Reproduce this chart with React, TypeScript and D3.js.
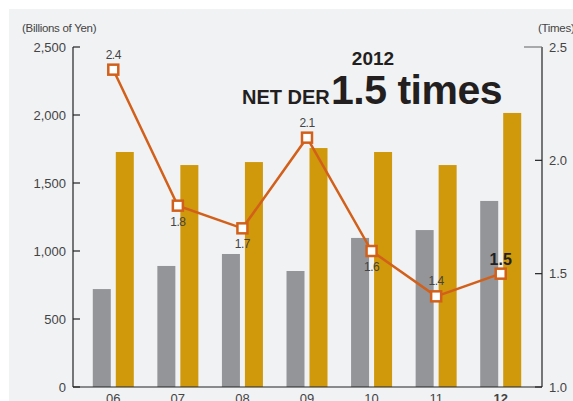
import React from "react";
import * as d3 from "d3";

const years = ["06", "07", "08", "09", "10", "11", "12"];
const netDebt = [720, 890, 978, 853, 1096, 1154, 1368];
const equity = [1728, 1632, 1654, 1757, 1728, 1632, 2015];
const der = [2.4, 1.8, 1.7, 2.1, 1.6, 1.4, 1.5];
const leftTicks = [0, 500, 1000, 1500, 2000, 2500];
const rightTicks = [1.0, 1.5, 2.0, 2.5];
const labelPos = ["above", "below", "below", "above", "below", "above", "bold"];

const W = 573, H = 401;
const xL = 73, xR = 542, yTop = 47, yBot = 387;

export default function App() {
  const x = d3.scaleBand<string>().domain(years).range([81, 533]).padding(0);
  const yl = d3.scaleLinear().domain([0, 2500]).range([yBot, yTop]);
  const yr = d3.scaleLinear().domain([1, 2.5]).range([yBot, yTop]);
  const cx = (y: string) => (x(y) as number) + x.bandwidth() / 2;
  const line = d3.line<number>().x((_, i) => cx(years[i])).y((d) => yr(d));
  const fmt = d3.format(",");
  const font = "Helvetica, Arial, 'Liberation Sans', sans-serif";
  const bw = 18, gap = 5;
  return (
    <svg width={W} height={H} style={{ position: "absolute", left: 0, top: 0, fontFamily: font }}>
      <rect x={0} y={0} width={W} height={H} fill="#fff" />
      <rect x={9} y={9} width={W - 9} height={H - 9} fill="#F1F2F4" />
      {/* bars */}
      {years.map((yv, i) => (
        <g key={yv}>
          <rect x={cx(yv) - gap / 2 - bw} y={yl(netDebt[i])} width={bw} height={yBot - yl(netDebt[i])} fill="#939598" />
          <rect x={cx(yv) + gap / 2} y={yl(equity[i])} width={bw} height={yBot - yl(equity[i])} fill="#D0980B" />
        </g>
      ))}
      {/* axes */}
      <line x1={xL} x2={xL} y1={yTop} y2={yBot} stroke="#222" strokeWidth={1.2} />
      <line x1={xR} x2={xR} y1={yTop} y2={yBot} stroke="#222" strokeWidth={1.2} />
      <line x1={xL} x2={xR} y1={yBot} y2={yBot} stroke="#222" strokeWidth={1.2} />
      {leftTicks.map((t) => (
        <g key={t}>
          <line x1={xL} x2={xL + 7} y1={yl(t)} y2={yl(t)} stroke="#222" strokeWidth={1.2} />
          <text x={66} y={yl(t)} dy="0.35em" textAnchor="end" fontSize={13} fill="#444">{fmt(t)}</text>
        </g>
      ))}
      {rightTicks.map((t) => (
        <g key={t}>
          <line x1={t === 2.5 ? xR - 18 : xR - 7} x2={xR} y1={yr(t)} y2={yr(t)} stroke={t === 2.5 ? "#777" : "#222"} strokeWidth={1.2} />
          <text x={549} y={yr(t)} dy="0.35em" textAnchor="start" fontSize={13} fill="#444">{t.toFixed(1)}</text>
        </g>
      ))}
      {years.map((yv, i) => (
        <text key={yv} x={cx(yv)} y={403} textAnchor="middle" fontSize={13} fill="#444" fontWeight={i === 6 ? "bold" : "normal"}>{yv}</text>
      ))}
      <text x={22} y={32} fontSize={11.5} fill="#444" letterSpacing={-0.3}>(Billions of Yen)</text>
      <text x={538} y={32} fontSize={11.5} fill="#444" letterSpacing={-0.3}>(Times)</text>
      {/* title */}
      <text x={373} y={65} textAnchor="middle" fontSize={19} fontWeight="bold" fill="#231F20">2012</text>
      <text x={242} y={104} fontSize={20} fontWeight="bold" fill="#231F20">NET DER</text>
      <text x={331} y={104} fontSize={41} fontWeight="bold" fill="#231F20" letterSpacing={-0.5}>1.5 times</text>
      {/* line */}
      <path d={line(der) || ""} fill="none" stroke="#D2601A" strokeWidth={2.5} />
      {der.map((v, i) => (
        <rect key={i} x={cx(years[i]) - 5} y={yr(v) - 5} width={10} height={10} fill="#fff" stroke="#D2601A" strokeWidth={2.5} />
      ))}
      {der.map((v, i) => {
        const px = cx(years[i]);
        const py = yr(v);
        if (labelPos[i] === "bold")
          return <text key={i} x={px} y={py - 9} textAnchor="middle" fontSize={16} fontWeight="bold" fill="#231F20">{v.toFixed(1)}</text>;
        return (
          <text key={i} x={px} y={labelPos[i] === "above" ? py - 11 : py + 20} textAnchor="middle" fontSize={12} fill="#444" letterSpacing={-0.5}>{v.toFixed(1)}</text>
        );
      })}
    </svg>
  );
}
